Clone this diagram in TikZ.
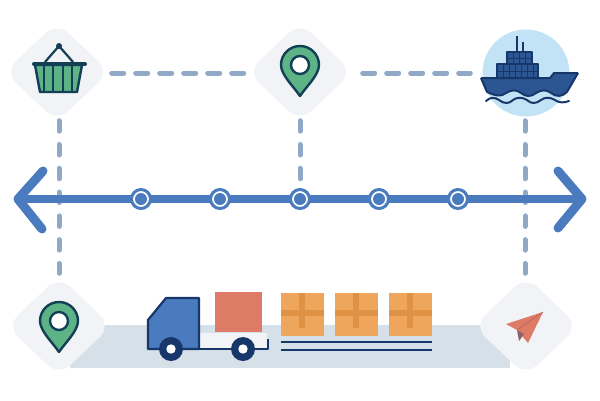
\documentclass[tikz,border=0pt]{standalone}
\usetikzlibrary{shapes.geometric}
\definecolor{tilegray}{HTML}{F1F3F6}
\definecolor{dashblue}{HTML}{8FA9C6}
\definecolor{axisblue}{HTML}{4A7BBE}
\definecolor{navy}{HTML}{17376A}
\definecolor{deepgreen}{HTML}{123F55}
\definecolor{pingreen}{HTML}{5DB286}
\definecolor{groundgray}{HTML}{D6E0E8}
\definecolor{coral}{HTML}{DE7B66}
\definecolor{cardboard}{HTML}{EDA65C}
\definecolor{cardtape}{HTML}{DF9144}
\definecolor{seablue}{HTML}{C2E2F6}
\definecolor{hullblue}{HTML}{2B5692}
\tikzset{
  x=1pt, y=-1pt,
  tile/.style={diamond, aspect=1, inner sep=0pt, fill=tilegray, minimum width=105pt, minimum height=100pt, rounded corners=16pt},
  link/.style={dashblue, line width=5pt, line cap=round},
  hlink/.style={link, dash pattern=on 12pt off 12pt},
  vlink/.style={link, dash pattern=on 10.5pt off 13.3pt},
  stopring/.style={circle, inner sep=0pt, minimum size=19pt, draw=axisblue, line width=3pt, fill=white},
  stopdot/.style={circle, inner sep=0pt, minimum size=12pt, fill=axisblue},
  axisline/.style={axisblue, line width=8pt, line cap=round},
  axishead/.style={axisblue, line width=9pt, line cap=round, line join=round},
  pinicon/.pic={
    \draw[deepgreen, fill=pingreen, line width=2.4pt, line join=round]
      (0,31) .. controls (-6,22) and (-19,10) .. (-19,0)
      arc[start angle=180, end angle=0, radius=19pt]
      .. controls (19,10) and (6,22) .. (0,31) -- cycle;
    \draw[deepgreen, fill=white, line width=2.4pt] (0,0) circle[radius=9pt];
  },
  crate/.pic={
    \fill[cardboard] (-21.5,-21.5) rectangle (21.5,21.5);
    \fill[cardtape] (-3.5,-21.5) rectangle (2.5,13.5);
    \fill[cardtape] (-21.5,-4.5) rectangle (21.5,1.5);
  }
}
\begin{document}
\begin{tikzpicture}
\useasboundingbox (0,0) rectangle (600,400);

% ground band under the truck
\fill[groundgray] (70,325) rectangle (510,368);

% tiles
\node[tile] (basket) at (57,72) {};
\node[tile] (pintop) at (300,72) {};
\node[tile] (pinlow) at (59,326) {};
\node[tile] (plane) at (526,326) {};
\node[circle, inner sep=0pt, minimum size=87pt, fill=seablue] (ship) at (526,73) {};

% dashed route
\coordinate (axismid) at (300,181);
\draw[hlink, shorten <=2pt, shorten >=2.5pt] ([yshift=-1pt]basket.east) -- ([yshift=-1pt]pintop.west);
\draw[hlink, shorten <=10pt, shorten >=12pt] ([yshift=-1pt]pintop.east) -- (ship.west);
\draw[vlink, shorten <=-1.5pt, shorten >=2.5pt] ([xshift=2pt]basket.south) -- (pinlow.north);
\draw[vlink, shorten <=-1.5pt] (pintop.south) -- (axismid);
\draw[vlink, shorten <=4pt, shorten >=2.5pt] ([xshift=-1pt]ship.south) -- ([xshift=-1pt]plane.north);

% time axis
\coordinate (tipL) at (18,199);
\coordinate (tipR) at (582,199);
\draw[axisline] (tipL) -- (tipR);
\draw[axishead] (43,171) -- (tipL) -- (42,229);
\draw[axishead] (558,171) -- (tipR) -- (558,228);
\foreach \n/\px in {a/141,b/220,c/300,d/379,e/458} {
  \node[stopring] (stop\n) at (\px,199) {};
  \node[stopdot] (dot\n) at (\px,199) {};
}

% basket
\begin{scope}[line join=round]
  \draw[deepgreen, line width=2.2pt] (45,62) -- (59,46) -- (73,62);
  \fill[deepgreen] (59,46) circle[radius=3pt];
  \draw[deepgreen, fill=pingreen, line width=2.4pt] (35,65) -- (82,65) -- (77,92) -- (40,92) -- cycle;
  \foreach \sx in {44,53,63,72} \draw[deepgreen, line width=1.5pt] (\sx,66) -- (\sx,91);
  \draw[deepgreen, line width=4pt, line cap=round] (34,64) -- (85,64);
\end{scope}

% location pins
\pic at (300,65) {pinicon};
\pic at (59,321) {pinicon};

% ship
\begin{scope}[line join=round]
  \draw[navy, line width=2.4pt] (517,36) -- (517,52);
  \draw[navy, line width=2.4pt] (523,42) -- (523,52);
  \fill[hullblue] (507,52) rectangle (532,64);
  \fill[hullblue] (497,64) rectangle (538,78);
  \foreach \cx in {513,519,525} \draw[navy, line width=.8pt] (\cx,52) -- (\cx,64);
  \foreach \cx in {503,509,515,521,527,533} \draw[navy, line width=.8pt] (\cx,64) -- (\cx,78);
  \draw[navy, line width=.8pt] (507,58) -- (532,58) (497,71) -- (538,71);
  \draw[navy, line width=1.2pt] (507,52) rectangle (532,64) (497,64) rectangle (538,78);
  \fill[hullblue] (481,78) -- (550,78) -- (554,73) -- (578,73) -- (567,92)
    .. controls (562,97) and (556,97) .. (551,93) .. controls (546,89) and (541,90) .. (536,93)
    .. controls (531,97) and (526,97) .. (521,93) .. controls (516,89) and (511,90) .. (506,93)
    .. controls (501,97) and (496,96) .. (487,92) -- cycle;
  \draw[navy, line width=2pt] (481,78) -- (550,78) -- (554,73) -- (578,73);
  \draw[navy, line width=2pt] (481,78) -- (487,92);
  \draw[navy, line width=2pt] (578,73) -- (567,92);
  \draw[navy, line width=2pt, line cap=round] (487,92)
    .. controls (496,96) and (501,97) .. (506,93) .. controls (511,90) and (516,89) .. (521,93)
    .. controls (526,97) and (531,97) .. (536,93) .. controls (541,90) and (546,89) .. (551,93)
    .. controls (556,97) and (562,97) .. (567,92);
  \draw[navy, line width=2pt, line cap=round] (486,101)
    .. controls (490,97) and (495,97) .. (499,100) .. controls (504,104) and (509,104) .. (513,100)
    .. controls (517,97) and (522,97) .. (527,100) .. controls (531,104) and (536,104) .. (541,100)
    .. controls (545,97) and (550,97) .. (555,100) .. controls (559,103) and (564,103) .. (569,101);
\end{scope}

% truck
\begin{scope}[line join=round]
  \fill[coral] (215,292) rectangle (262,332);
  \fill[tilegray] (199,333) rectangle (267,349);
  \draw[navy, line width=2pt] (199,349) -- (268,349) -- (268,339);
  \draw[navy, fill=axisblue, line width=2.2pt] (148,320) -- (166,298) -- (199,298) -- (199,349) -- (148,349) -- cycle;
  \foreach \wx in {171,243} {
    \fill[navy] (\wx,349) circle[radius=12pt];
    \fill[white] (\wx,349) circle[radius=4.7pt];
  }
\end{scope}

% cargo boxes and deck lines
\pic at (302.5,314.5) {crate};
\pic at (356,314.5) {crate};
\pic at (410.5,314.5) {crate};
\draw[navy, line width=2pt] (281,342) -- (432,342);
\draw[navy, line width=2pt] (281,350) -- (432,350);

% paper plane
\begin{scope}[line join=round]
  \fill[coral] (543,312) -- (506,324) -- (517,330) -- cycle;
  \fill[coral] (543,312) -- (517,330) -- (528,343) -- cycle;
  \fill[coral!60!navy] (517,330) -- (519,341) -- (524,334) -- cycle;
  \draw[coral!80!black, line width=.6pt] (543,312) -- (517,330);
\end{scope}
\end{tikzpicture}
\end{document}
